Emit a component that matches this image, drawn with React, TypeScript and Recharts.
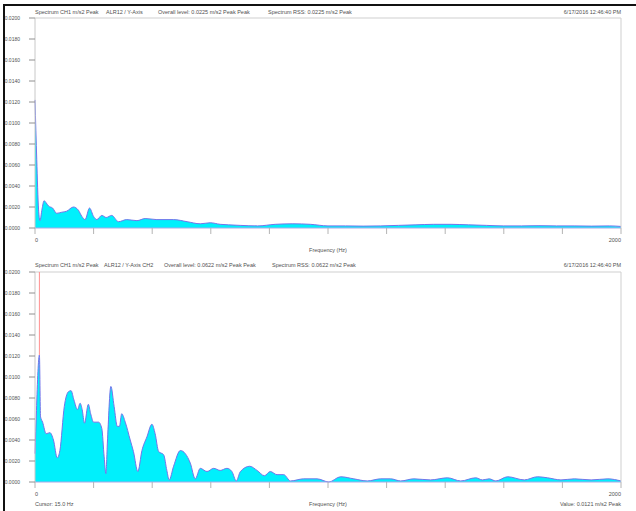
import React from 'react';
import { AreaChart, Area, XAxis, YAxis, ReferenceLine } from 'recharts';

// Channel 1 spectrum (Hz, m/s2 peak)
const topFreq = [0, 6, 12, 17, 24, 31, 38, 46, 60, 74, 91, 108, 131, 148, 160, 171, 186, 200, 211, 228, 243, 262, 285, 313, 348, 376, 416, 473, 519, 564, 598, 632, 660, 700, 760, 820, 880, 940, 1000, 1060, 1120, 1180, 1240, 1300, 1360, 1420, 1480, 1540, 1600, 1660, 1720, 1780, 1840, 1900, 1960, 2000];
const topLevel = [0.0122, 0.0065, 0.0018, 0.0007, 0.0018, 0.0026, 0.0024, 0.0021, 0.0019, 0.0014, 0.0015, 0.0016, 0.002, 0.0017, 0.0011, 0.0008, 0.0019, 0.0011, 0.0008, 0.0012, 0.001, 0.0012, 0.0006, 0.0008, 0.0007, 0.0009, 0.0008, 0.0008, 0.0006, 0.0004, 0.0005, 0.00035, 0.0003, 0.00025, 0.0002, 0.00035, 0.0004, 0.00035, 0.0002, 0.0002, 0.00018, 0.0002, 0.00025, 0.0003, 0.00035, 0.00035, 0.0003, 0.00025, 0.0002, 0.0002, 0.00022, 0.0002, 0.0002, 0.00018, 0.0002, 0.00015];

// Channel 2 spectrum
const bottomFreq = [0, 5, 10, 15, 19, 26, 38, 51, 63, 76, 85, 100, 114, 123, 133, 145, 154, 161, 169, 182, 190, 200, 217, 228, 236, 242, 247, 259, 270, 281, 288, 296, 308, 325, 336, 351, 365, 382, 399, 410, 422, 439, 450, 458, 473, 496, 513, 530, 547, 564, 587, 610, 632, 655, 672, 687, 701, 733, 758, 783, 803, 826, 849, 872, 917, 963, 1003, 1043, 1088, 1134, 1180, 1214, 1248, 1293, 1350, 1408, 1453, 1504, 1527, 1550, 1573, 1613, 1670, 1715, 1749, 1795, 1841, 1898, 1955, 2000];
const bottomLevel = [0.0027, 0.0068, 0.0105, 0.0121, 0.0062, 0.0057, 0.0046, 0.0047, 0.004, 0.0023, 0.003, 0.0072, 0.0086, 0.0087, 0.0078, 0.0069, 0.0075, 0.0069, 0.0056, 0.0074, 0.0065, 0.0057, 0.0057, 0.0051, 0.0024, 0.0008, 0.0037, 0.0091, 0.0072, 0.0053, 0.0053, 0.0065, 0.0057, 0.004, 0.0029, 0.001, 0.003, 0.0043, 0.0055, 0.0046, 0.0029, 0.0026, 0.0011, 0.0002, 0.0015, 0.003, 0.0027, 0.0018, 0.0003, 0.0013, 0.001, 0.0013, 0.0011, 0.0013, 0.001, 0.0001, 0.001, 0.0015, 0.0011, 0.0006, 0.001, 0.0007, 0.0007, 0.0001, 0.0003, 0.0003, 0.0, 0.0005, 0.0003, 0.0001, 0.0003, 0.0003, 0.0001, 0.0003, 0.0002, 0.0004, 0.0001, 0.0004, 0.0002, 0.0003, 0.0001, 0.0005, 0.0002, 0.0005, 0.0004, 0.0002, 0.0003, 0.0002, 0.0003, 0.0001];

const freqTicks = [0, 200, 400, 600, 800, 1000, 1200, 1400, 1600, 1800, 2000];
const levelTicks = [0, 0.002, 0.004, 0.006, 0.008, 0.01, 0.012, 0.014, 0.016, 0.018, 0.02];

const topHeader = ['Spectrum CH1 m/s2 Peak', 'ALR12 / Y-Axis', 'Overall level: 0.0225 m/s2 Peak Peak', 'Spectrum RSS: 0.0225 m/s2 Peak'];
const bottomHeader = ['Spectrum CH1 m/s2 Peak', 'ALR12 / Y-Axis CH2', 'Overall level: 0.0622 m/s2 Peak Peak', 'Spectrum RSS: 0.0622 m/s2 Peak'];
const topHeaderX = [35, 106, 158, 268];
const bottomHeaderX = [35, 104, 164, 272];
const timestamp = '6/17/2016 12:46:40 PM';

const cursorFreq = 15;
const cursorValue = 0.0121;

const FONT = '"Liberation Sans", Arial, sans-serif';
const TEXT = '#505050';

const zip = (f: number[], v: number[]) => f.map((freq, i) => ({ freq, level: v[i] }));

const FreqTick = (props: any) => {
  const { x, y, payload } = props;
  if (payload.value !== 0 && payload.value !== 2000) return null;
  return (
    <text x={x} y={y + 6} textAnchor={payload.value === 0 ? 'start' : 'end'} fontSize={5.5} fontFamily={FONT} fill={TEXT}>
      {payload.value}
    </text>
  );
};

const label = (text: string, x: number, y: number, align: 'left' | 'right' | 'center' = 'left') => {
  const style: React.CSSProperties = {
    position: 'absolute',
    top: y - 3,
    fontSize: 5.5,
    lineHeight: '6px',
    fontFamily: FONT,
    color: TEXT,
    whiteSpace: 'nowrap',
  };
  if (align === 'left') style.left = x;
  else if (align === 'right') style.right = 636 - x;
  else {
    style.left = x;
    style.transform = 'translateX(-50%)';
  }
  return <div key={text + x + y} style={style}>{text}</div>;
};

const Panel = ({ data, top, height, cursor }: { data: any[]; top: number; height: number; cursor?: boolean }) => (
  <div style={{ position: 'absolute', left: 0, top, width: 636, height }}>
    <AreaChart width={636} height={height} data={data} margin={{ top: 18, right: 15, bottom: 0, left: 0 }}>
      <XAxis
        dataKey="freq"
        type="number"
        domain={[0, 2000]}
        ticks={freqTicks}
        interval={0}
        height={height - 228}
        tickSize={6}
        tickLine={{ stroke: '#b4b4b4' }}
        axisLine={{ stroke: '#a8a8e8' }}
        tick={<FreqTick />}
      />
      <YAxis
        type="number"
        domain={[0, 0.02]}
        ticks={levelTicks}
        interval={0}
        width={35}
        tickSize={6}
        tickMargin={9}
        tickLine={{ stroke: '#909090' }}
        axisLine={{ stroke: '#c8c8c8' }}
        tickFormatter={(v: number) => v.toFixed(4)}
        tick={{ fontSize: 5, fontFamily: FONT, fill: TEXT }}
      />
      <ReferenceLine y={0.02} stroke="#cfcfcf" />
      <ReferenceLine x={2000} stroke="#cfcfcf" />
      {cursor && (
        <ReferenceLine
          segment={[{ x: cursorFreq, y: cursorValue }, { x: cursorFreq, y: 0.02 }]}
          stroke="#ff9090"
        />
      )}
      <Area
        type="monotone"
        dataKey="level"
        stroke="#7474ea"
        strokeWidth={1}
        fill="#00f0fc"
        fillOpacity={1}
        isAnimationActive={false}
      />
    </AreaChart>
  </div>
);

const App: React.FC = () => {
  const topData = zip(topFreq, topLevel);
  const bottomData = zip(bottomFreq, bottomLevel);
  return (
    <div style={{ position: 'absolute', left: 0, top: 0, width: 636, height: 511, background: '#fff', overflow: 'hidden' }}>
      <Panel data={topData} top={0} height={254} />
      <Panel data={bottomData} top={254} height={257} cursor />

      {topHeader.map((t, i) => label(t, topHeaderX[i], 12))}
      {label(timestamp, 621, 12, 'right')}
      {label('Frequency (Hz)', 328, 250, 'center')}

      {bottomHeader.map((t, i) => label(t, bottomHeaderX[i], 265))}
      {label(timestamp, 621, 265, 'right')}
      {label('Cursor: 15.0 Hz', 35, 504)}
      {label('Frequency (Hz)', 328, 504, 'center')}
      {label('Value: 0.0121 m/s2 Peak', 621, 504, 'right')}

      {/* frame */}
      <div style={{ position: 'absolute', left: 3, top: 4, width: 640, height: 520, borderLeft: '2px solid #111', borderTop: '2px solid #111' }} />
    </div>
  );
};

export default App;
